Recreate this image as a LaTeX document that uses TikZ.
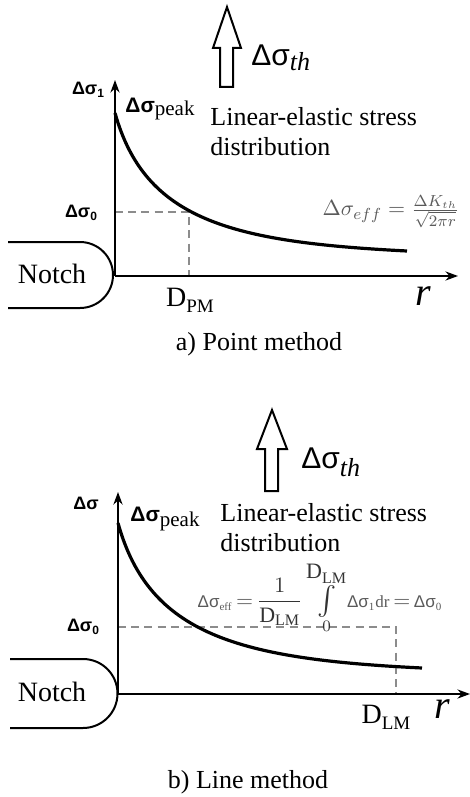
\documentclass[tikz,border=0pt]{standalone}
\usepackage{amsmath}
\usepackage{fontspec}
\setmainfont{Liberation Serif}
\setsansfont{Liberation Sans}
\usetikzlibrary{arrows.meta, positioning}
\definecolor{dashgray}{HTML}{8C8C8C}
\definecolor{eqgray}{HTML}{5A5A5A}
\tikzset{
  axis/.style={line width=1.1pt, -{Stealth[length=2.2mm, width=1.6mm]}},
  curve/.style={line width=1.6pt},
  guide/.style={dashgray, line width=1.1pt, dash pattern=on 4pt off 2.6pt},
  notch/.style={line width=1pt},
  load/.style={line width=1pt, fill=white, line join=miter},
  sym/.style={font=\fontsize{9}{10}\selectfont\sffamily\bfseries, inner sep=0pt},
  thlab/.style={font=\fontsize{15}{16}\selectfont\sffamily, inner sep=0pt, anchor=west},
  txt/.style={font=\fontsize{13}{15}\selectfont, align=left, inner sep=0pt, anchor=west},
  big/.style={font=\fontsize{14}{16}\selectfont, inner sep=0pt},
  var/.style={font=\fontsize{20}{22}\selectfont\itshape, inner sep=0pt},
  caption/.style={font=\fontsize{13}{15}\selectfont, inner sep=0pt},
  eq/.style={text=eqgray, inner sep=0pt},
}
\newcommand{\dsig}{{\sffamily\bfseries Δσ}}
\newcommand{\smallds}[1]{\mbox{\fontsize{8.5}{9}\selectfont\sffamily Δσ}_{\mbox{\fontsize{5.5}{6}\selectfont #1}}}
\newcommand{\dlm}{\mbox{D}_{\mbox{\fontsize{8}{9}\selectfont LM}}}
\newcommand{\tallint}{\mathop{\vcenter{\hbox{\fontsize{15}{15}\selectfont$\int$}}}}

\begin{document}
\begin{tikzpicture}[x=0.5pt, y=-0.5pt]
\useasboundingbox (0,0) rectangle (470,797);
% a) point method
\draw[load] (220,87) -- (220,48) -- (213,48) -- (227,7) -- (241,48) -- (233,48) -- (233,87) -- cycle;
\node[thlab] (tha) at (251,58) {Δσ\raisebox{-0.35ex}{\rmfamily\itshape\fontsize{13}{13}\selectfont th}};
\coordinate (oa) at (115,276);
\coordinate (ya) at (115,80);
\coordinate (xa) at (458,276);
\coordinate (pa) at (189,212);
\draw[guide] (oa |- pa) -- (pa) -- (pa |- oa);
\draw[axis] (oa) -- (ya);
\draw[axis] (oa) -- (xa);
\draw[curve] (115,113) .. controls (145,220) and (230,242) .. (407,251);
\draw[notch] (8,242) -- (80,242) arc[start angle=-90, end angle=90, radius=33] -- (8,308);
\node[big] (na) at (52,274) {Notch};
\node[sym] (s1a) at (88,90) {Δσ\raisebox{-0.3ex}{\fontsize{6}{6}\selectfont 1}};
\node[sym] (s0a) at (81,213) {Δσ\raisebox{-0.3ex}{\fontsize{6}{6}\selectfont 0}};
\node[inner sep=0pt, anchor=west, font=\fontsize{10.5}{12}\selectfont] (pka) at (125,109) {\dsig\raisebox{-0.4ex}{peak}};
\node[txt] (lea) at (210,132) {Linear-elastic stress\\distribution};
\node[eq, font=\fontsize{11}{12}\selectfont] (fa) at (391,212) {$\Delta\sigma_{eff}=\frac{\Delta K_{th}}{\sqrt{2\pi r}}$};
\node[big] (da) at (190,300) {D\raisebox{-0.45ex}{\fontsize{9.5}{10}\selectfont PM}};
\node[var] (ra) at (423,296) {r};
\node[caption] (ca) at (259,344) {a) Point method};
% b) line method
\draw[load] (265,491) -- (265,449) -- (257,449) -- (272,410) -- (287,449) -- (278,449) -- (278,491) -- cycle;
\node[thlab] (thb) at (301,462) {Δσ\raisebox{-0.5ex}{\rmfamily\itshape\fontsize{13}{13}\selectfont th}};
\coordinate (ob) at (118,694);
\coordinate (yb) at (118,492);
\coordinate (xb) at (470,694);
\coordinate (pb) at (396,627);
\draw[guide] (ob |- pb) -- (pb) -- (pb |- ob);
\draw[axis] (ob) -- (yb);
\draw[axis] (ob) -- (xb);
\draw[curve] (118,523) .. controls (149,635) and (238,659) .. (422,668);
\draw[notch] (10,659) -- (83,659) arc[start angle=-90, end angle=90, radius=34.5] -- (10,728);
\node[big] (nb) at (52,692) {Notch};
\node[sym] (sb) at (86,503) {Δσ};
\node[sym] (s0b) at (83,627) {Δσ\raisebox{-0.3ex}{\fontsize{6}{6}\selectfont 0}};
\node[inner sep=0pt, anchor=west, font=\fontsize{10.5}{12}\selectfont] (pkb) at (130,519) {\dsig\raisebox{-0.5ex}{peak}};
\node[txt] (leb) at (220,528) {Linear-elastic stress\\distribution};
\node[eq, font=\fontsize{11}{12}\selectfont] (fb) at (320,598) {\thickmuskip=3mu $\displaystyle\smallds{eff} = {\color{black!80}\frac{1}{\dlm}\tallint\limits_{0}^{\dlm}}\smallds{1}\mbox{\fontsize{8.5}{9}\selectfont dr} = \smallds{0}$};
\node[big] (db) at (386,717) {D\raisebox{-0.45ex}{\fontsize{9.5}{10}\selectfont LM}};
\node[var] (rb) at (442,709) {r};
\node[caption] (cb) at (248,782) {b) Line method};
\end{tikzpicture}
\end{document}
